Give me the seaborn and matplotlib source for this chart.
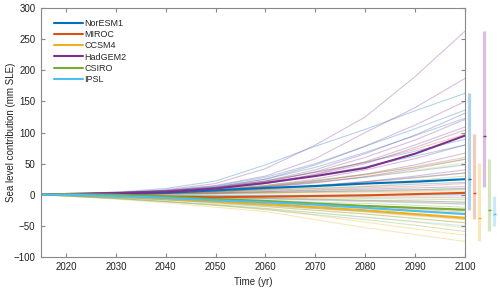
import matplotlib
matplotlib.use("Agg")
import matplotlib.pyplot as plt
import seaborn as sns
import pandas as pd

years = [2015, 2020, 2030, 2040, 2050, 2060, 2070, 2080, 2090, 2100]
models = ["NorESM1", "MIROC", "CCSM4", "HadGEM2", "CSIRO", "IPSL"]
colors = ["#0072BD", "#D95319", "#EDB120", "#7E2F8E", "#77AC30", "#4DBEEE"]

# individual ensemble members (mm SLE)
noresm1_runs = [
    [0, 1, 4, 10, 22, 48, 78, 105, 135, 163],
    [0, 1, 3, 7, 14, 28, 50, 78, 106, 136],
    [0, 1, 3, 6, 13, 25, 44, 68, 95, 123],
    [0, 2, 3, 6, 12, 22, 36, 52, 70, 89],
    [0, 1, 2, 5, 10, 18, 30, 45, 62, 80],
    [0, 1, 2, 4, 8, 13, 20, 28, 38, 48],
    [0, 0, 1, 3, 6, 10, 15, 21, 28, 35],
    [0, 1, 1, 2, 4, 7, 10, 13, 17, 20],
    [0, 0, 0, 1, 2, 4, 5, 7, 8, 10],
    [0, 0, -1, -1, -1, -1, -1, 0, 0, 0],
    [0, -1, -2, -3, -4, -6, -7, -9, -10, -12],
    [0, -1, -3, -5, -8, -11, -14, -18, -21, -25],
]
miroc_runs = [
    [0, 1, 3, 6, 12, 22, 36, 52, 73, 97],
    [0, 1, 2, 4, 8, 14, 22, 32, 45, 60],
    [0, 1, 1, 3, 5, 9, 14, 20, 27, 35],
    [0, 0, 1, 2, 3, 5, 8, 11, 14, 18],
    [0, 0, 0, 1, 2, 3, 4, 5, 6, 8],
    [0, 0, -1, -2, -2, -3, -3, -4, -4, -5],
    [0, -1, -2, -3, -5, -6, -8, -10, -12, -15],
    [0, -1, -3, -6, -9, -12, -15, -19, -23, -28],
    [0, -1, -4, -8, -12, -17, -22, -27, -33, -39],
]
ccsm4_runs = [
    [0, 1, 2, 4, 8, 13, 20, 29, 39, 51],
    [0, 1, 1, 2, 4, 7, 10, 14, 19, 25],
    [0, 0, 0, 1, 1, 2, 3, 3, 4, 5],
    [0, -1, -2, -3, -4, -6, -7, -9, -10, -12],
    [0, -1, -3, -5, -8, -11, -14, -18, -21, -25],
    [0, -1, -4, -8, -12, -17, -22, -28, -34, -40],
    [0, -2, -5, -9, -14, -19, -25, -31, -38, -45],
    [0, -2, -6, -11, -16, -22, -29, -36, -44, -53],
    [0, -2, -6, -11, -17, -23, -33, -44, -55, -65],
    [0, -2, -7, -13, -20, -27, -40, -53, -64, -75],
]
hadgem2_runs = [
    [0, 1, 3, 8, 18, 42, 80, 125, 190, 263],
    [0, 2, 4, 7, 15, 30, 58, 100, 140, 187],
    [0, 1, 3, 6, 12, 25, 48, 78, 112, 150],
    [0, 2, 2, 5, 11, 22, 40, 66, 96, 131],
    [0, 1, 3, 6, 10, 20, 37, 60, 88, 121],
    [0, 1, 2, 5, 9, 18, 33, 53, 80, 109],
    [0, 2, 4, 6, 11, 19, 32, 50, 76, 104],
    [0, 1, 2, 4, 8, 15, 25, 40, 58, 80],
    [0, 1, 2, 4, 7, 13, 22, 33, 48, 67],
    [0, 2, 3, 4, 7, 12, 19, 29, 42, 57],
    [0, 1, 2, 3, 5, 9, 14, 21, 30, 40],
    [0, 1, 1, 2, 3, 5, 7, 9, 11, 13],
]
csiro_runs = [
    [0, 1, 2, 5, 9, 15, 23, 33, 44, 57],
    [0, 1, 1, 3, 5, 8, 12, 17, 23, 30],
    [0, 0, 1, 1, 2, 3, 5, 6, 8, 10],
    [0, 0, -1, -2, -3, -4, -5, -6, -7, -8],
    [0, -1, -2, -4, -6, -9, -12, -14, -17, -20],
    [0, -1, -3, -6, -10, -14, -18, -22, -27, -32],
    [0, -1, -4, -8, -13, -19, -25, -31, -38, -45],
    [0, -2, -6, -11, -17, -24, -32, -40, -49, -59],
]
ipsl_runs = [
    [0, 0, 0, -1, -1, -1, -1, -2, -2, -2],
    [0, -1, -2, -3, -5, -7, -9, -11, -13, -15],
    [0, -1, -3, -6, -9, -12, -15, -18, -21, -25],
    [0, -1, -4, -8, -12, -17, -22, -27, -32, -38],
    [0, -2, -6, -11, -16, -22, -29, -36, -43, -50],
]

# ensemble medians
noresm1_median = [0, 0, 1, 3, 7, 11, 14, 18, 21, 25]
miroc_median = [0, 0, -1, -3, -4, -3, -2, -1, 1, 3]
ccsm4_median = [0, 0, -2, -6, -11, -15, -20, -25, -31, -37]
hadgem2_median = [0, 1, 2, 4, 10, 19, 30, 43, 66, 95]
csiro_median = [0, 1, 0, -3, -7, -10, -14, -18, -21, -24]
ipsl_median = [0, 0, -2, -5, -9, -12, -16, -21, -26, -31]

runs = dict(zip(models, [noresm1_runs, miroc_runs, ccsm4_runs,
                         hadgem2_runs, csiro_runs, ipsl_runs]))
medians = dict(zip(models, [noresm1_median, miroc_median, ccsm4_median,
                            hadgem2_median, csiro_median, ipsl_median]))

rows = []
for m in models:
    for k, run in enumerate(runs[m]):
        for y, v in zip(years, run):
            rows.append((m, m + str(k), y, v))
df = pd.DataFrame(rows, columns=["model", "run", "year", "slc"])

med_rows = []
for m in models:
    for y, v in zip(years, medians[m]):
        med_rows.append((m, y, v))
med_df = pd.DataFrame(med_rows, columns=["model", "year", "slc"])

sns.set_style("ticks")
plt.rcParams["font.family"] = ["Liberation Sans", "DejaVu Sans"]

fig = plt.figure(figsize=(5, 2.9), dpi=100)
ax = fig.add_axes([0.082, 0.114, 0.848, 0.858])
pal = dict(zip(models, colors))

sns.lineplot(data=df, x="year", y="slc", hue="model", units="run",
             estimator=None, palette=pal, alpha=0.3, lw=0.8,
             legend=False, ax=ax)
sns.lineplot(data=med_df, x="year", y="slc", hue="model", hue_order=models,
             palette=pal, lw=1.5, ax=ax)

# range bars at 2100
for i, m in enumerate(models):
    ends = [r[-1] for r in runs[m]]
    xb = 2100.9 + i * 1.0
    ax.vlines(xb, min(ends), max(ends), color=pal[m], alpha=0.3, lw=2.3,
              clip_on=False)
    ax.hlines(medians[m][-1], xb - 0.3, xb + 0.3, color=pal[m], lw=1.0,
              clip_on=False)

h, l = ax.get_legend_handles_labels()
ax.legend(h, l, loc="upper left", bbox_to_anchor=(0.011, 0.99), frameon=False,
          fontsize=6.5, handlelength=3.2, handletextpad=0.2, labelspacing=0.25)

ax.set_xlim(2015, 2100)
ax.set_ylim(-100, 300)
ax.set_xticks(range(2020, 2101, 10))
ax.set_yticks(range(-100, 301, 50))
ax.tick_params(direction="in", top=True, right=True, length=3, width=0.8,
               color="#888888", labelsize=7, labelcolor="#222222", pad=4)
for s in ax.spines.values():
    s.set_visible(True)
    s.set_color("#888888")
    s.set_linewidth(0.8)
ax.set_xlabel("Time (yr)", fontsize=7, color="#222222", labelpad=3)
ax.set_ylabel("Sea level contribution (mm SLE)", fontsize=7, color="#222222")
ax.yaxis.set_label_coords(-0.058, 0.5)

fig.savefig("out.png", dpi=100)
